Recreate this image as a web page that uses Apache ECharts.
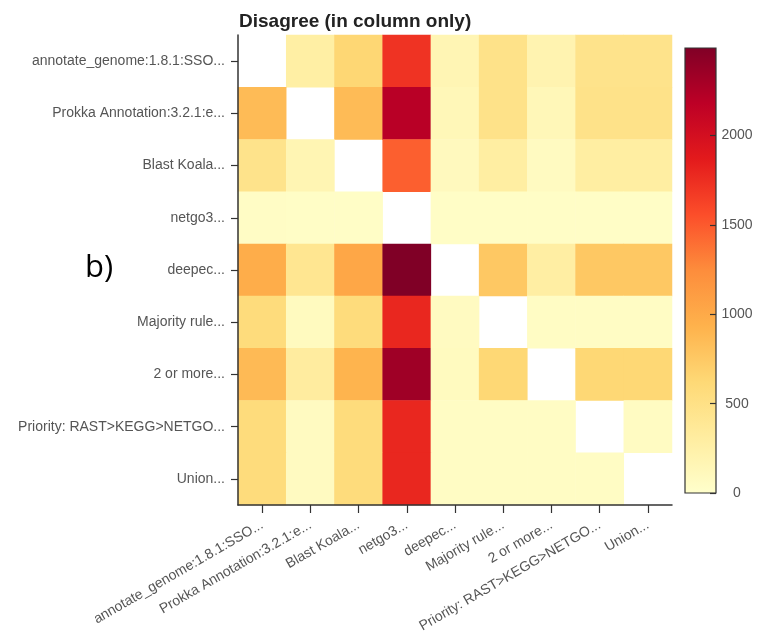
<!DOCTYPE html>
<html>
<head>
<meta charset="utf-8">
<script src="https://cdn.jsdelivr.net/npm/echarts@6/dist/echarts.min.js"></script>
<style>
  html, body { margin: 0; padding: 0; background: #fff; }
  #main { width: 761px; height: 637px; }
</style>
</head>
<body>
<div id="main"></div>
<script>
const categories = [
  'annotate_genome:1.8.1:SSO...',
  'Prokka Annotation:3.2.1:e...',
  'Blast Koala...',
  'netgo3...',
  'deepec...',
  'Majority rule...',
  '2 or more...',
  'Priority: RAST>KEGG>NETGO...',
  'Union...'
];

// rows = y categories (top to bottom), columns = x categories; null = diagonal (blank)
const rowAnnotate = [null, 280, 640, 1720, 170, 480, 200, 470, 470];
const rowProkka   = [860, null, 860, 2200, 140, 480, 140, 480, 480];
const rowBlast    = [470, 180, null, 1470, 100, 300, 80, 300, 300];
const rowNetgo    = [50, 40, 40, null, 40, 40, 40, 40, 40];
const rowDeepec   = [980, 420, 1030, 2490, null, 760, 290, 760, 760];
const rowMajority = [580, 90, 580, 1790, 80, null, 60, 60, 60];
const rowTwoMore  = [870, 320, 920, 2330, 90, 630, null, 630, 630];
const rowPriority = [580, 80, 580, 1790, 60, 60, 60, null, 70];
const rowUnion    = [580, 80, 580, 1790, 60, 60, 60, 60, null];

const colorTicks = [0, 500, 1000, 1500, 2000];
const colorMax = 2490;
const ylOrRd = ['#ffffcc', '#ffeda0', '#fed976', '#feb24c', '#fd8d3c', '#fc4e2a', '#e31a1c', '#bd0026', '#800026'];

const rows = [rowAnnotate, rowProkka, rowBlast, rowNetgo, rowDeepec, rowMajority, rowTwoMore, rowPriority, rowUnion];
const heatData = [];
rows.forEach((row, y) => {
  row.forEach((v, x) => {
    if (v !== null) heatData.push([x, y, v]);
  });
});

const chart = echarts.init(document.getElementById('main'));
const fontFam = 'Liberation Sans, Arial, sans-serif';
const labelStyle = { color: '#555', fontSize: 14, fontFamily: fontFam };

chart.setOption({
  animation: false,
  title: {
    text: 'Disagree (in column only)',
    left: 234,
    top: 7,
    textStyle: { fontSize: 19, fontWeight: 'bold', color: '#222', fontFamily: fontFam }
  },
  graphic: [{
    type: 'text',
    left: 85,
    top: 253,
    style: { text: 'b)', fontSize: 31, fill: '#000', fontFamily: 'Open Sans, sans-serif' }
  }],
  grid: [
    { left: 238, top: 35, width: 434, height: 470 },
    {
      left: 685, top: 48, width: 31, height: 445,
      show: true, borderColor: '#333', borderWidth: 1.2,
      backgroundColor: new echarts.graphic.LinearGradient(0, 1, 0, 0,
        ylOrRd.map((c, i) => ({ offset: i / (ylOrRd.length - 1), color: c })))
    }
  ],
  xAxis: [
    {
      type: 'category', gridIndex: 0, data: categories, z: 5,
      axisLine: { show: true, lineStyle: { color: '#333', width: 1.5 } },
      axisTick: { show: true, alignWithLabel: true, length: 8, lineStyle: { color: '#333', width: 1.2 } },
      axisLabel: Object.assign({ rotate: 30, margin: 19, interval: 0 }, labelStyle),
      splitLine: { show: false }
    },
    { type: 'value', gridIndex: 1, show: false, min: 0, max: 1 }
  ],
  yAxis: [
    {
      type: 'category', gridIndex: 0, data: categories, inverse: true, z: 5,
      axisLine: { show: true, lineStyle: { color: '#333', width: 1.5 } },
      axisTick: { show: true, alignWithLabel: true, length: 7, lineStyle: { color: '#333', width: 1.2 } },
      axisLabel: Object.assign({ margin: 13, interval: 0 }, labelStyle),
      splitLine: { show: false }
    },
    {
      type: 'value', gridIndex: 1, position: 'right', min: 0, max: colorMax, interval: 500, z: 5,
      axisLine: { show: false, onZero: false },
      axisTick: { show: true, inside: true, length: 6, customValues: colorTicks, lineStyle: { color: '#333', width: 1.2 } },
      axisLabel: Object.assign({
        margin: 21,
        align: 'center',
        customValues: colorTicks,
        formatter: v => String(v)
      }, labelStyle),
      splitLine: { show: false }
    }
  ],
  visualMap: {
    show: false,
    type: 'continuous',
    min: 0,
    max: colorMax,
    seriesIndex: 0,
    inRange: { color: ylOrRd }
  },
  series: [{
    type: 'heatmap',
    xAxisIndex: 0,
    yAxisIndex: 0,
    data: heatData,
    itemStyle: { borderWidth: 0 },
    emphasis: { disabled: true }
  }]
});
</script>
</body>
</html>
